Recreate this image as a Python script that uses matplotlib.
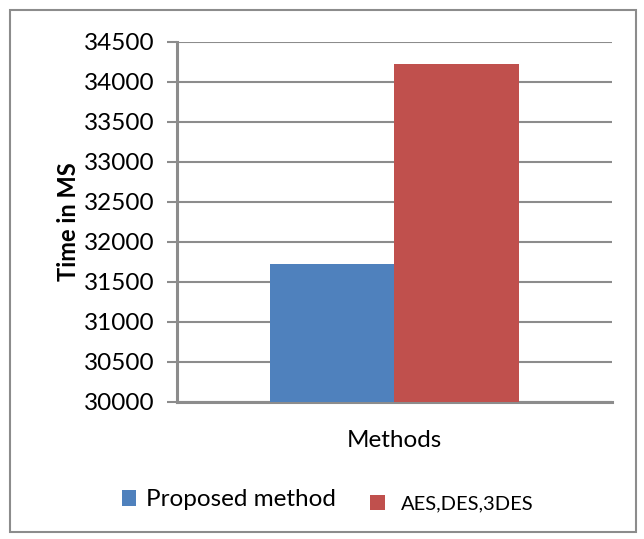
import matplotlib
matplotlib.use("Agg")
import matplotlib.pyplot as plt
from matplotlib.patches import Rectangle
import numpy as np

categories = ["Methods"]
series_names = ["Proposed method", "AES,DES,3DES"]
series_values = [31730, 34230]
colors = ["#4F81BD", "#C0504D"]
yticks = list(range(30000, 34501, 500))

plt.rcParams['font.family'] = ['Lato', 'DejaVu Sans']

fig = plt.figure(figsize=(6.44, 5.39), dpi=100)
ax = fig.add_axes([177/644, 1-402/539, (612-177)/644, (402-42)/539])

offsets = [-0.5, 0.5]
bars = []
for name, val, col, off in zip(series_names, series_values, colors, offsets):
    b = ax.bar(off, val - yticks[0], bottom=yticks[0], width=1.0, color=col, label=name, zorder=3)
    bars.append(b)

ax.set_xlim(-1.747, 1.747)
ax.set_ylim(yticks[0], yticks[-1])
ax.set_yticks(yticks)
ax.set_yticklabels([str(t) for t in yticks], fontsize=17.5)
ax.set_xticks([])
ax.grid(axis='y', color='#8c8c8c', linewidth=1.5, zorder=0)
for s in ['top', 'right']:
    ax.spines[s].set_visible(False)
for s in ['left', 'bottom']:
    ax.spines[s].set_color('#8c8c8c')
    ax.spines[s].set_linewidth(2.2)
ax.tick_params(axis='y', length=7, width=1.5, color='#8c8c8c', pad=9)
ax.set_ylabel("Time in MS", fontsize=17, fontweight='bold', labelpad=3)
ax.set_xlabel(categories[0], fontsize=17.5, labelpad=20)

# legend (two entries, as in the reference the second is smaller)
leg1 = fig.legend(handles=[bars[0]], labels=[series_names[0]], loc='center left',
                  bbox_to_anchor=(112/644, 1-500/539), frameon=False,
                  fontsize=17.5, handlelength=0.6, handleheight=0.6,
                  handletextpad=0.4, borderaxespad=0)
leg2 = fig.legend(handles=[bars[1]], labels=[series_names[1]], loc='center left',
                  bbox_to_anchor=(362/644, 1-504/539), frameon=False,
                  fontsize=14.5, handlelength=0.75, handleheight=0.75,
                  handletextpad=0.8, borderaxespad=0)

fig.patches.append(Rectangle((10/644, 1-532/539), 626/644, 522/539,
                             transform=fig.transFigure, fill=False,
                             edgecolor='#8c8c8c', linewidth=1.5))

fig.savefig("out.png", dpi=100)
